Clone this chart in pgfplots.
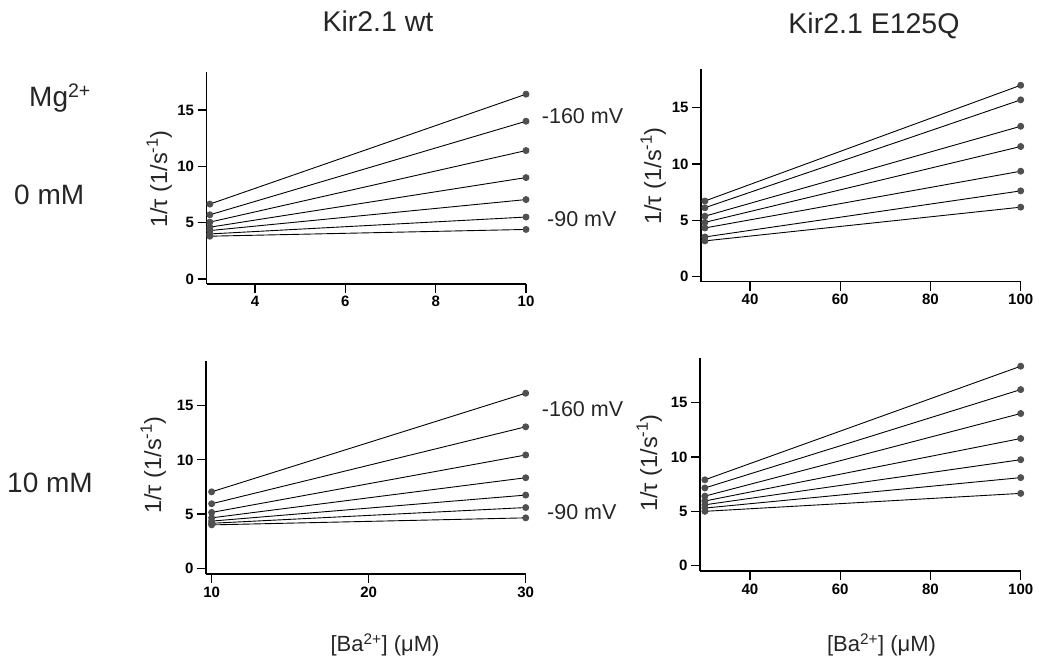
\documentclass[border=0pt]{standalone}
\usepackage{pgfplots}
\pgfplotsset{compat=1.18}
\usepackage{fontspec}
\setmainfont{Liberation Sans}
\definecolor{markgray}{HTML}{505050}
\pgfplotsset{
  panel/.style={
    scale only axis, anchor=south west, clip=false,
    axis x line=bottom, axis y line=left,
    axis line style={-, line width=1.3pt},
    tick align=outside, major tick length=9pt,
    every tick/.style={line width=1.2pt, black},
    ytick={0,5,10,15},
    tick label style={font=\fontsize{15}{17}\selectfont\bfseries},
    /pgf/number format/assume math mode=true,
  },
  ser/.style={black, line width=0.9pt, mark=*, mark size=3pt,
    mark options={fill=markgray, draw=markgray}},
}
\begin{document}
\begin{tikzpicture}[x=1pt,y=1pt]
\useasboundingbox (0,0) rectangle (1039,660);

% Panel 1: wt, 0 mM
\begin{axis}[panel, at={(206.5pt,376pt)}, width=319.5pt, height=212pt,
  xmin=2.926, xmax=10, ymin=-0.44, ymax=18.37, xtick={4,6,8,10}]
\addplot[ser] coordinates {(3,6.65) (10,16.4)};
\addplot[ser] coordinates {(3,5.7) (10,14.0)};
\addplot[ser] coordinates {(3,5.05) (10,11.4)};
\addplot[ser] coordinates {(3,4.6) (10,9.0)};
\addplot[ser] coordinates {(3,4.3) (10,7.05)};
\addplot[ser] coordinates {(3,4.0) (10,5.5)};
\addplot[ser] coordinates {(3,3.8) (10,4.4)};
\end{axis}

% Panel 2: E125Q, 0 mM
\begin{axis}[panel, at={(701pt,378.3pt)}, width=319.7pt, height=212.4pt,
  xmin=29.14, xmax=100, ymin=-0.48, ymax=18.42, xtick={40,60,80,100}]
\addplot[ser] coordinates {(30,6.7) (100,17.0)};
\addplot[ser] coordinates {(30,6.1) (100,15.7)};
\addplot[ser] coordinates {(30,5.35) (100,13.35)};
\addplot[ser] coordinates {(30,4.8) (100,11.55)};
\addplot[ser] coordinates {(30,4.3) (100,9.35)};
\addplot[ser] coordinates {(30,3.5) (100,7.6)};
\addplot[ser] coordinates {(30,3.15) (100,6.15)};
\end{axis}

% Panel 3: wt, 10 mM
\begin{axis}[panel, at={(206pt,86pt)}, width=319.7pt, height=213.3pt,
  xmin=9.64, xmax=30, ymin=-0.53, ymax=19.15, xtick={10,20,30}]
\addplot[ser] coordinates {(10,7.05) (30,16.15)};
\addplot[ser] coordinates {(10,5.95) (30,13.05)};
\addplot[ser] coordinates {(10,5.15) (30,10.45)};
\addplot[ser] coordinates {(10,4.65) (30,8.35)};
\addplot[ser] coordinates {(10,4.35) (30,6.75)};
\addplot[ser] coordinates {(10,4.15) (30,5.6)};
\addplot[ser] coordinates {(10,4.0) (30,4.65)};
\end{axis}

% Panel 4: E125Q, 10 mM
\begin{axis}[panel, at={(700pt,89pt)}, width=320.7pt, height=212.7pt,
  xmin=28.92, xmax=100, ymin=-0.49, ymax=19.08, xtick={40,60,80,100}]
\addplot[ser] coordinates {(30,7.9) (100,18.35)};
\addplot[ser] coordinates {(30,7.15) (100,16.2)};
\addplot[ser] coordinates {(30,6.4) (100,14.0)};
\addplot[ser] coordinates {(30,5.95) (100,11.7)};
\addplot[ser] coordinates {(30,5.6) (100,9.75)};
\addplot[ser] coordinates {(30,5.3) (100,8.1)};
\addplot[ser] coordinates {(30,5.0) (100,6.65)};
\end{axis}

% Titles and labels
\begin{scope}[every node/.style={inner sep=0pt, text=black!85}]
\node[anchor=base, font=\fontsize{28.5}{32}\selectfont] at (378,628) {Kir2.1 wt};
\node[anchor=base, font=\fontsize{28.5}{32}\selectfont] at (874,626) {Kir2.1 E125Q};
\node[anchor=base west, font=\fontsize{28}{32}\selectfont] at (29,553.3) {Mg\textsuperscript{2+}};
\node[anchor=base west, font=\fontsize{28}{32}\selectfont] at (14,455) {0 mM};
\node[anchor=base west, font=\fontsize{28}{32}\selectfont] at (7,167) {10 mM};
\node[anchor=base west, font=\fontsize{21.5}{24}\selectfont] at (541.7,536) {-160 mV};
\node[anchor=base west, font=\fontsize{21.5}{24}\selectfont] at (547,433.3) {-90 mV};
\node[anchor=base west, font=\fontsize{21.5}{24}\selectfont] at (541.7,243.3) {-160 mV};
\node[anchor=base west, font=\fontsize{21.5}{24}\selectfont] at (547,140) {-90 mV};
\node[anchor=base, font=\fontsize{22}{26}\selectfont] at (385,8) {[Ba\textsuperscript{2+}] (μM)};
\node[anchor=base, font=\fontsize{22}{26}\selectfont] at (881.5,8) {[Ba\textsuperscript{2+}] (μM)};
\node[anchor=base, rotate=90, font=\fontsize{23.5}{26}\selectfont] at (167,481) {1/τ (1/s\textsuperscript{-1})};
\node[anchor=base, rotate=90, font=\fontsize{23.5}{26}\selectfont] at (661,484) {1/τ (1/s\textsuperscript{-1})};
\node[anchor=base, rotate=90, font=\fontsize{23.5}{26}\selectfont] at (161,195) {1/τ (1/s\textsuperscript{-1})};
\node[anchor=base, rotate=90, font=\fontsize{23.5}{26}\selectfont] at (657,197) {1/τ (1/s\textsuperscript{-1})};
\end{scope}
\end{tikzpicture}
\end{document}
